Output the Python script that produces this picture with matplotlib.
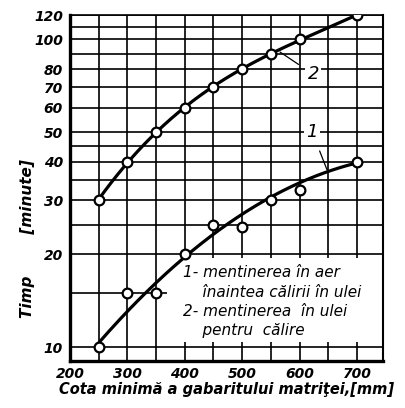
#!/usr/bin/env python3
"""Timp de mentinere in functie de cota minima a gabaritului matritei."""

import numpy as np
import matplotlib

matplotlib.use("Agg")
import matplotlib.pyplot as plt  # noqa: E402
from matplotlib.patches import Rectangle  # noqa: E402

plt.rcParams["font.family"] = ["DejaVu Sans"]

# measured points
COTA = [250, 300, 350, 400, 450, 500, 550, 600, 700]
TIMP_AER = [10, 15, 15, 20, 25, 24.5, 30, 32.5, 40]
TIMP_ULEI = [30, 40, 50, 60, 70, 80, 90, 100, 120]

# hand-drawn trend curve 1
FIT_AER_X = [250, 300, 400, 480, 545, 700]
FIT_AER_Y = [10, 13.5, 20, 25, 30, 40]

X_TICKS = [200, 300, 400, 500, 600, 700]
X_MINOR = [250, 350, 450, 550, 650]
Y_TICKS = [10, 20, 30, 40, 50, 60, 70, 80, 100, 120]
Y_MINOR = [15, 25, 35, 45, 90, 110]

LEGEND_LINES = [
    "1- mentinerea în aer",
    "    înaintea călirii în ulei",
    "2- mentinerea  în ulei",
    "    pentru  călire",
]

TICK_FONT = dict(fontsize=10, fontweight="bold", fontstyle="italic")
LINE_KW = dict(color="black", linewidth=2.3, zorder=3)
MARK_KW = dict(
    linestyle="none", marker="o", markersize=7, markerfacecolor="white",
    markeredgecolor="black", markeredgewidth=1.6, zorder=4,
)


def smooth(xs, ys, deg):
    coef = np.polyfit(xs, np.log10(ys), deg)
    xx = np.linspace(min(xs), max(xs), 200)
    return xx, 10 ** np.polyval(coef, xx)


fig = plt.figure(figsize=(4.06, 4.08), dpi=100)
ax = fig.add_axes([0.172, 0.115, 0.771, 0.848])

ax.set_yscale("log")
ax.set_xlim(200, 745)
ax.set_ylim(9.0, 120)

ax.set_xticks(X_TICKS)
ax.set_xticks(X_MINOR, minor=True)
ax.set_xticklabels([str(v) for v in X_TICKS], **TICK_FONT)
ax.set_yticks(Y_TICKS)
ax.set_yticks(Y_MINOR, minor=True)
ax.set_yticklabels([str(v) for v in Y_TICKS], **TICK_FONT)
ax.yaxis.set_minor_formatter(matplotlib.ticker.NullFormatter())
ax.tick_params(which="both", length=0)
ax.tick_params(axis="x", pad=4)
ax.tick_params(axis="y", pad=5)

ax.set_axisbelow(True)
ax.grid(True, which="both", color="black", linewidth=1.2)
for side in ["left", "bottom"]:
    ax.spines[side].set_linewidth(2.4)
ax.spines["right"].set_linewidth(1.5)
ax.spines["top"].set_linewidth(1.2)

# white area behind the legend text
ax.add_patch(Rectangle((0.31, 0.055), 0.69, 0.243, transform=ax.transAxes,
                       facecolor="white", edgecolor="none", zorder=1))

xx, yy = smooth(COTA, TIMP_ULEI, 3)
ax.plot(xx, yy, **LINE_KW)
xx, yy = smooth(FIT_AER_X, FIT_AER_Y, 2)
ax.plot(xx, yy, **LINE_KW)
ax.plot(COTA, TIMP_ULEI, **MARK_KW)
ax.plot(COTA, TIMP_AER, **MARK_KW)

label_kw = dict(fontsize=13, fontstyle="italic", ha="center", va="center",
                bbox=dict(facecolor="white", edgecolor="none", pad=1.5),
                arrowprops=dict(arrowstyle="-", color="black", linewidth=0.9,
                                shrinkA=6, shrinkB=0), zorder=5)
ax.annotate("2", xy=(566, 91), xytext=(624, 77), **label_kw)
ax.annotate("1", xy=(648, 37.6), xytext=(622, 50), **label_kw)

for i, line in enumerate(LEGEND_LINES):
    ax.text(0.36, 0.255 - i * 0.056, line, transform=ax.transAxes,
            fontsize=11, fontstyle="italic", ha="left", va="center", zorder=5)

ax.set_xlabel("Cota minimă a gabaritului matriţei,[mm]", fontsize=10.5,
              fontweight="bold", fontstyle="italic", labelpad=1)
fig.text(0.068, 0.415, "Timp        [minute]", rotation=90, fontsize=11,
         fontweight="bold", fontstyle="italic", ha="center", va="center")

fig.savefig("out.png", dpi=100)
